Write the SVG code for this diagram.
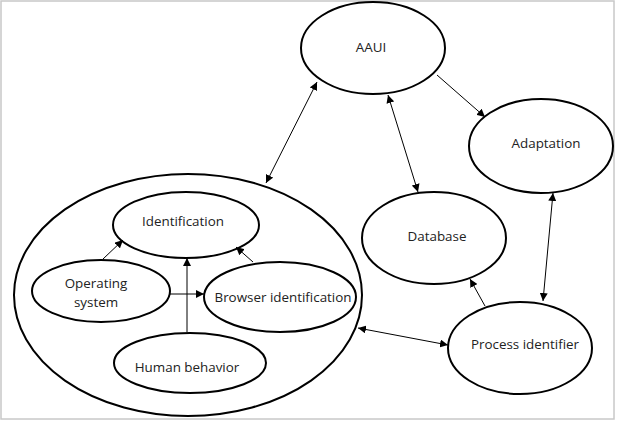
<svg xmlns="http://www.w3.org/2000/svg" width="617" height="422" viewBox="0 0 617 422">
<style>
.n{fill:#fff;stroke:#000;stroke-width:2}
.t{font-family:"Open Sans","Noto Sans","Liberation Sans",sans-serif;font-size:13.4px;fill:#222;text-anchor:middle}
.c{stroke:#000;stroke-width:1;fill:none}
</style>
<defs>
<marker id="ah" viewBox="0 0 10 10" refX="10" refY="5" markerWidth="8" markerHeight="8" markerUnits="userSpaceOnUse" orient="auto-start-reverse">
<path d="M0,0 L10,5 L0,10 z" fill="#000"/>
</marker>
</defs>
<rect x="1" y="1" width="613" height="418" fill="#fff" stroke="#c8c8c8" stroke-width="1.5"/>
<g id="group-outer"><ellipse class="n" cx="188" cy="295" rx="174" ry="121"/></g>
<g id="identification"><ellipse class="n" cx="186" cy="225" rx="73" ry="33"/><text class="t" x="183" y="226">Identification</text></g>
<g id="operating-system"><ellipse class="n" cx="101" cy="291" rx="69" ry="31"/><text class="t" x="96" y="288">Operating</text><text class="t" x="96" y="307">system</text></g>
<g id="browser-identification"><ellipse class="n" cx="280" cy="297" rx="76" ry="35"/><text class="t" x="283" y="302">Browser identification</text></g>
<g id="human-behavior"><ellipse class="n" cx="190" cy="363" rx="76" ry="30"/><text class="t" x="187" y="372">Human behavior</text></g>
<g id="aaui"><ellipse class="n" cx="373" cy="48" rx="72" ry="46"/><text class="t" x="371" y="52">AAUI</text></g>
<g id="adaptation"><ellipse class="n" cx="541" cy="146" rx="72" ry="47"/><text class="t" x="546" y="148">Adaptation</text></g>
<g id="database"><ellipse class="n" cx="434" cy="238" rx="72" ry="46"/><text class="t" x="437" y="241">Database</text></g>
<g id="process-identifier"><ellipse class="n" cx="520" cy="348" rx="72" ry="46"/><text class="t" x="525" y="349">Process identifier</text></g>
<g id="connectors">
<line class="c" x1="317" y1="82" x2="266" y2="183" marker-start="url(#ah)" marker-end="url(#ah)"/>
<line class="c" x1="437" y1="75" x2="485" y2="117" marker-end="url(#ah)"/>
<line class="c" x1="388" y1="95" x2="418" y2="192" marker-start="url(#ah)" marker-end="url(#ah)"/>
<line class="c" x1="553" y1="193" x2="543" y2="301" marker-start="url(#ah)" marker-end="url(#ah)"/>
<line class="c" x1="485" y1="306" x2="470" y2="279" marker-end="url(#ah)"/>
<line class="c" x1="358" y1="328" x2="448" y2="345" marker-start="url(#ah)" marker-end="url(#ah)"/>
<line class="c" x1="103" y1="259" x2="123" y2="240" marker-end="url(#ah)"/>
<line class="c" x1="170" y1="294" x2="204" y2="294" marker-end="url(#ah)"/>
<line class="c" x1="187" y1="332" x2="187" y2="258" marker-end="url(#ah)"/>
<line class="c" x1="253" y1="262" x2="236" y2="247" marker-end="url(#ah)"/>
</g>
</svg>
